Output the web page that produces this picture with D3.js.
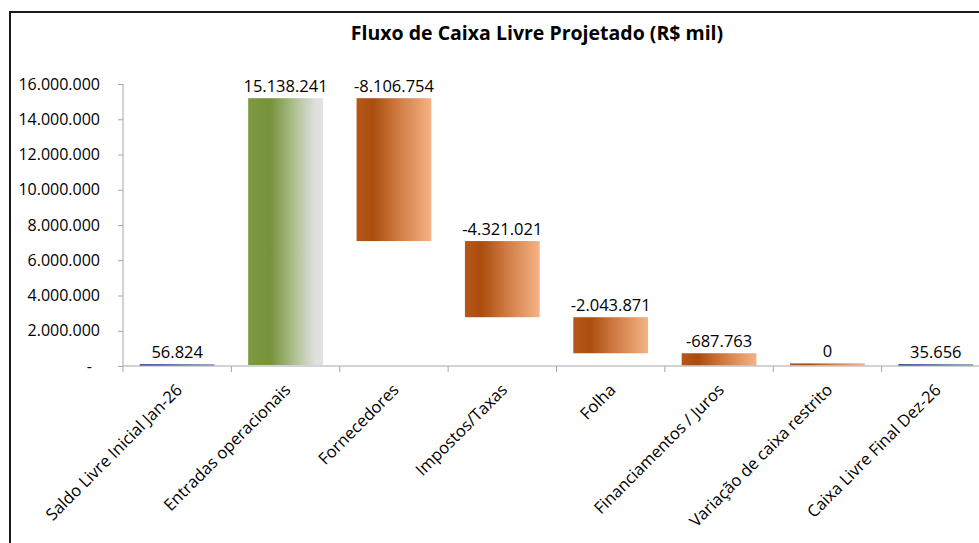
<!DOCTYPE html>
<html lang="pt">
    <head>
        <meta charset="utf-8">
        <title>Fluxo de Caixa Livre Projetado</title>
        <script src="https://d3js.org/d3.v7.min.js"></script>
    </head>

    <style type="text/css">
        body {
            margin: 0;
            background: #fff;
        }

        text {
            font-family: "Open Sans", sans-serif;
            fill: #000;
        }

        .yAxis path, .xAxis path {
            stroke: #a6a6a6;
        }

        .yAxis .tick line {
            stroke: #a6a6a6;
        }
    </style>

    <body>
        <div class="chart"></div>
        <script type="text/javascript">
            // data
            var categories = ["Saldo Livre Inicial Jan-26", "Entradas operacionais", "Fornecedores",
                "Impostos/Taxas", "Folha", "Financiamentos / Juros", "Variação de caixa restrito",
                "Caixa Livre Final Dez-26"];
            var values = [56824, 15138241, -8106754, -4321021, -2043871, -687763, 0, 35656];
            var kinds = ["total", "up", "down", "down", "down", "down", "down", "total"];
            var yTicks = [0, 2000000, 4000000, 6000000, 8000000, 10000000, 12000000, 14000000, 16000000];

            var width = 979, height = 543;

            var svg = d3.select(".chart")
                .append("svg")
                .attr("width", width)
                .attr("height", height);

            var ptBR = d3.formatLocale({decimal: ",", thousands: ".", grouping: [3], currency: ["R$", ""], minus: "-"});
            var fmt = ptBR.format(",d");

            // waterfall steps
            var steps = [];
            var running = 0;
            values.forEach(function(v, i) {
                if (kinds[i] == "total") {
                    steps.push({name: categories[i], value: v, kind: kinds[i], start: 0, end: v});
                    running = v;
                } else {
                    steps.push({name: categories[i], value: v, kind: kinds[i], start: running, end: running + v});
                    running += v;
                }
            });

            // scales
            var plot = {left: 123, right: 990, top: 84, bottom: 366};

            var x = d3.scaleBand()
                .domain(categories)
                .range([plot.left, plot.right])
                .padding(0);

            var xBar = d3.scaleBand()
                .domain(categories)
                .range([plot.left, plot.right])
                .paddingInner(0.31)
                .paddingOuter(0.155);

            var y = d3.scaleLinear()
                .domain([0, 16000000])
                .range([plot.bottom, plot.top]);

            // gradients
            var defs = svg.append("defs");
            function gradient(id, stops) {
                var g = defs.append("linearGradient").attr("id", id)
                    .attr("x1", "0%").attr("x2", "100%").attr("y1", "0%").attr("y2", "0%");
                stops.forEach(function(s) {
                    g.append("stop").attr("offset", s[0]).attr("stop-color", s[1]);
                });
            }
            gradient("gTotal", [["0%", "#3f5d94"], ["30%", "#4f6ea6"], ["100%", "#98abcf"]]);
            gradient("gUp", [["0%", "#7e993f"], ["30%", "#76923c"], ["62%", "#afc08f"], ["90%", "#e0e0e0"], ["100%", "#e0e0e0"]]);
            gradient("gDown", [["0%", "#b65717"], ["22%", "#aa4d0f"], ["55%", "#cf7a42"], ["100%", "#f5b386"]]);

            var fills = {total: "url(#gTotal)", up: "url(#gUp)", down: "url(#gDown)"};

            // outer frame
            svg.append("rect")
                .attr("x", 10)
                .attr("y", 12)
                .attr("width", 1200)
                .attr("height", 800)
                .style("fill", "none")
                .style("stroke", "#1a1a1a")
                .style("stroke-width", 2);

            // title
            svg.append("text")
                .attr("x", 537)
                .attr("y", 40)
                .attr("text-anchor", "middle")
                .style("font-size", "19.5px")
                .style("font-weight", "bold")
                .text("Fluxo de Caixa Livre Projetado (R$ mil)");

            // y axis
            var yAxis = d3.axisLeft(y)
                .tickValues(yTicks)
                .tickSize(5)
                .tickPadding(18)
                .tickFormat(function(d) { return d == 0 ? "-" : fmt(d); });

            var gy = svg.append("g")
                .attr("class", "yAxis")
                .attr("transform", "translate(" + plot.left + ",0)")
                .call(yAxis);
            gy.selectAll("text").style("font-size", "16px").style("fill", "#000");
            gy.selectAll(".tick").filter(function(d) { return d == 0; })
                .select("text").attr("dx", "-8");
            gy.select(".domain").attr("d", "M0," + plot.top + "V" + plot.bottom);

            // bars
            svg.selectAll(".bar")
                .data(steps)
                .enter()
                .append("rect")
                .attr("class", "bar")
                .attr("x", function(d) { return xBar(d.name); })
                .attr("width", xBar.bandwidth())
                .attr("y", function(d) {
                    var top = y(Math.max(d.start, d.end));
                    var h = Math.abs(y(d.start) - y(d.end));
                    return h < 2 ? y(Math.min(d.start, d.end)) - 2 : top;
                })
                .attr("height", function(d) {
                    return Math.max(2, Math.abs(y(d.start) - y(d.end)));
                })
                .style("fill", function(d) { return fills[d.kind]; });

            // x axis line and boundary ticks
            var xAxis = d3.axisBottom(x).tickSize(0).tickFormat("");
            var gx = svg.append("g")
                .attr("class", "xAxis")
                .attr("transform", "translate(0," + plot.bottom + ")")
                .call(xAxis);
            gx.select(".domain").attr("d", "M" + plot.left + ",0H" + plot.right);
            gx.selectAll(".bound")
                .data(categories)
                .enter()
                .append("line")
                .attr("class", "bound")
                .attr("x1", function(d) { return x(d); })
                .attr("x2", function(d) { return x(d); })
                .attr("y1", 0)
                .attr("y2", 6)
                .style("stroke", "#a6a6a6");

            // category labels
            svg.selectAll(".catLabel")
                .data(categories)
                .enter()
                .append("text")
                .attr("class", "catLabel")
                .attr("text-anchor", "end")
                .attr("transform", function(d) {
                    var cx = x(d) + x.bandwidth() / 2 + 6;
                    return "translate(" + cx + ",391) rotate(-45)";
                })
                .style("font-size", "16.5px")
                .text(function(d) { return d; });

            // value labels
            svg.selectAll(".valLabel")
                .data(steps)
                .enter()
                .append("text")
                .attr("class", "valLabel")
                .attr("x", function(d) { return xBar(d.name) + xBar.bandwidth() / 2; })
                .attr("y", function(d) {
                    var h = Math.max(2, Math.abs(y(d.start) - y(d.end)));
                    var top = Math.min(y(d.start), y(d.end));
                    if (h == 2) top = Math.max(y(d.start), y(d.end)) - 2;
                    return top - 6;
                })
                .attr("text-anchor", "middle")
                .style("font-size", "16.5px")
                .text(function(d) { return fmt(d.value); });
        </script>
    </body>
</html>
